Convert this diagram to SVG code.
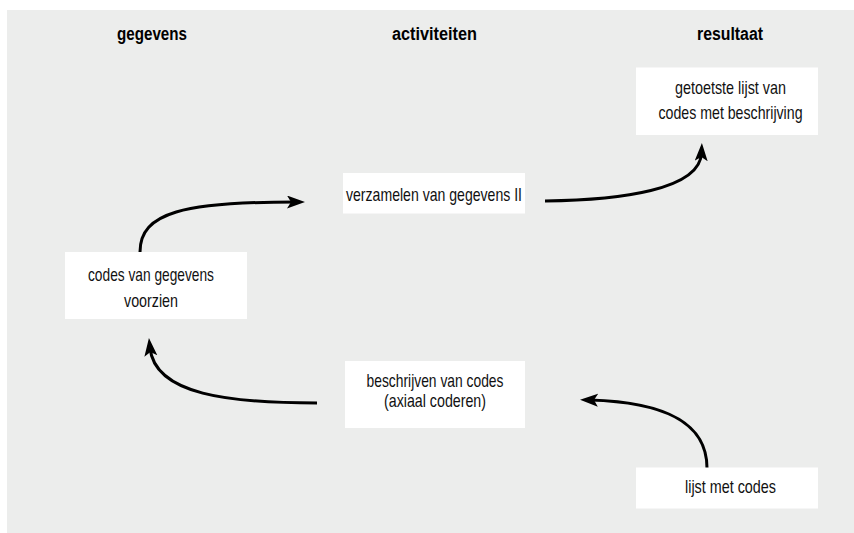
<svg xmlns="http://www.w3.org/2000/svg" width="854" height="533" viewBox="0 0 854 533">
<style>
.bg{fill:#ecedec}
.box{fill:#ffffff}
.t{font-family:"Liberation Sans",Arial,sans-serif;font-size:18.5px;fill:#111;text-anchor:middle}
.h{font-family:"Liberation Sans",Arial,sans-serif;font-size:18px;font-weight:bold;fill:#000;text-anchor:middle}
.c{fill:none;stroke:#000;stroke-width:3}
</style>
<defs>
<marker id="ah" markerUnits="userSpaceOnUse" markerWidth="20" markerHeight="14" refX="8" refY="6.5" orient="auto">
<path d="M0,0 L18,6.5 L0,13 L4,6.5 Z" fill="#000"/>
</marker>
</defs>
<rect class="bg" x="7" y="10" width="847" height="523"/>
<g id="headers">
<text class="h" x="152" y="40" textLength="70" lengthAdjust="spacingAndGlyphs">gegevens</text>
<text class="h" x="434.5" y="40" textLength="85" lengthAdjust="spacingAndGlyphs">activiteiten</text>
<text class="h" x="730" y="40" textLength="66" lengthAdjust="spacingAndGlyphs">resultaat</text>
</g>
<g id="connectors">
<path class="c" d="M140,252 C140,212 185,202 295,202" marker-end="url(#ah)"/>
<path class="c" d="M545,201 C620,200 700,190 701.5,153" marker-end="url(#ah)"/>
<path class="c" d="M317,403 C230,403 155,395 150,348" marker-end="url(#ah)"/>
<path class="c" d="M707,468 C707,420 660,402 590,400" marker-end="url(#ah)"/>
</g>
<g id="node-getoetste">
<rect class="box" x="636" y="67.5" width="182" height="67.5"/>
<text class="t" x="730.5" y="94.3" textLength="111" lengthAdjust="spacingAndGlyphs">getoetste lijst van</text>
<text class="t" x="730.5" y="119.3" textLength="144" lengthAdjust="spacingAndGlyphs">codes met beschrijving</text>
</g>
<g id="node-verzamelen">
<rect class="box" x="343" y="173" width="182" height="40.5"/>
<text class="t" x="434" y="200.7" textLength="176" lengthAdjust="spacingAndGlyphs">verzamelen van gegevens II</text>
</g>
<g id="node-codes">
<rect class="box" x="65" y="252" width="182" height="67"/>
<text class="t" x="151" y="280.7" textLength="126" lengthAdjust="spacingAndGlyphs">codes van gegevens</text>
<text class="t" x="151" y="306.7" textLength="54" lengthAdjust="spacingAndGlyphs">voorzien</text>
</g>
<g id="node-beschrijven">
<rect class="box" x="345" y="361" width="180" height="67"/>
<text class="t" x="435" y="387.3" textLength="137" lengthAdjust="spacingAndGlyphs">beschrijven van codes</text>
<text class="t" x="435" y="407" textLength="102" lengthAdjust="spacingAndGlyphs">(axiaal coderen)</text>
</g>
<g id="node-lijst">
<rect class="box" x="636" y="467.5" width="182" height="41"/>
<text class="t" x="730.5" y="493.3" textLength="91" lengthAdjust="spacingAndGlyphs">lijst met codes</text>
</g>
</svg>
